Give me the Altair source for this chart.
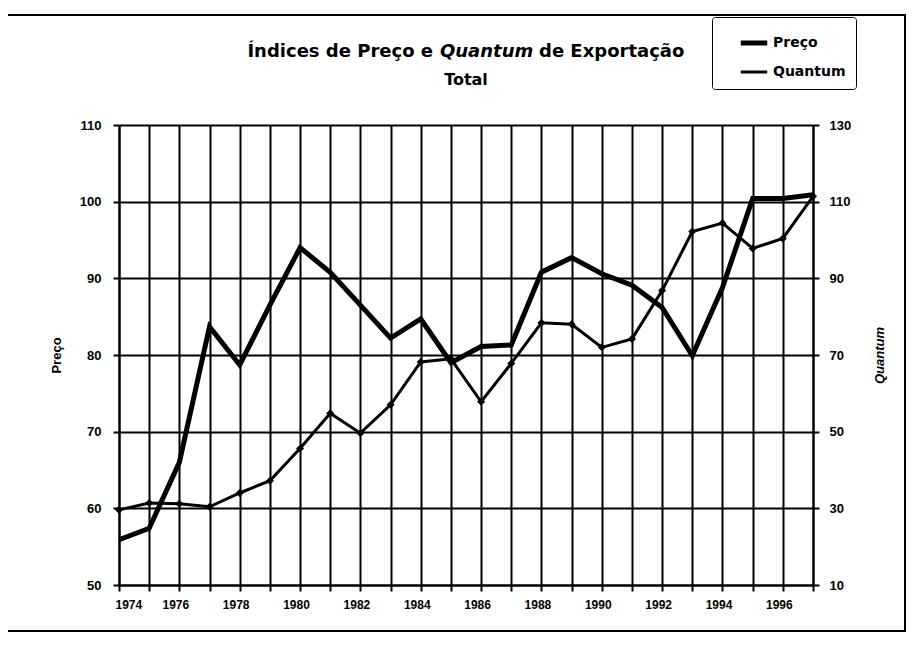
import altair as alt
import pandas as pd

anos = [1974, 1975, 1976, 1977, 1978, 1979, 1980, 1981, 1982, 1983, 1984, 1985,
        1986, 1987, 1988, 1989, 1990, 1991, 1992, 1993, 1994, 1995, 1996, 1997]
preco = [55.9, 57.4, 66.0, 83.7, 78.7, 86.5, 94.0, 90.8, 86.5, 82.2, 84.7, 79.0,
         81.1, 81.3, 90.8, 92.7, 90.6, 89.1, 86.2, 79.9, 88.8, 100.4, 100.4, 100.9]
quantum = [29.6, 31.4, 31.2, 30.4, 34.0, 37.2, 45.6, 54.8, 49.6, 57.0, 68.2, 69.0,
           57.8, 67.8, 78.4, 78.0, 72.0, 74.2, 86.8, 102.2, 104.4, 97.8, 100.4, 111.4]
series = ["Preço", "Quantum"]
ticks_esq = [50, 60, 70, 80, 90, 100, 110]
ticks_dir = [10, 30, 50, 70, 90, 110, 130]
titulo_a = ["Índices de Preço e"]
titulo_b = ["Quantum"]
titulo_c = ["de Exportação"]
titulo_2 = ["Total"]
eixo_esq = "Preço"
eixo_dir = "Quantum"

df = pd.DataFrame({
    "ano": anos + anos,
    "serie": [series[0]] * len(anos) + [series[1]] * len(anos),
    "valor": preco + quantum,
})

W, H = 694, 460
FONT = "Liberation Sans"
TFONT = "DejaVu Sans"

base = alt.Chart(df)

x_enc = alt.X(
    "ano:Q",
    scale=alt.Scale(domain=[anos[0], anos[-1]], nice=False, zero=False),
    axis=alt.Axis(
        values=anos, format="d", title=None,
        labelExpr="datum.value % 2 == 0 ? datum.label : ''",
        grid=True, gridColor="black", gridWidth=2, gridOpacity=1,
        domainColor="black", domainWidth=2, tickColor="black", tickWidth=2,
        tickSize=6, labelPadding=8, labelOffset=-4,
        labelFont=FONT, labelFontWeight="bold", labelFontSize=12, labelColor="black",
    ),
)

color_enc = alt.Color(
    "serie:N",
    scale=alt.Scale(domain=series, range=["black", "black"]),
    legend=alt.Legend(
        title=None, orient="none", legendX=593, legendY=-108,
        strokeColor="black", padding=10, cornerRadius=3,
        symbolType="stroke", symbolSize=700, symbolStrokeColor="black",
        symbolOffset=16,
        labelFont=TFONT, labelFontWeight="bold", labelFontSize=14, labelColor="black",
        rowPadding=4, labelOffset=3,
    ),
)
sw_enc = alt.StrokeWidth(
    "serie:N",
    scale=alt.Scale(domain=series, range=[5, 3]),
    legend=alt.Legend(title=None, orient="none", legendX=593, legendY=-108),
)

y_left = alt.Y(
    "valor:Q",
    scale=alt.Scale(domain=[ticks_esq[0], ticks_esq[-1]], nice=False, zero=False),
    axis=alt.Axis(
        values=ticks_esq, format="d", title=eixo_esq, orient="left",
        grid=True, gridColor="black", gridWidth=2, gridOpacity=1,
        domainColor="black", domainWidth=2, tickColor="black", tickWidth=2,
        tickSize=6, labelPadding=12,
        labelFont=FONT, labelFontWeight="bold", labelFontSize=13, labelColor="black",
        titleFont=FONT, titleFontWeight="bold", titleFontSize=13, titleColor="black",
        titlePadding=16,
    ),
)
y_right = alt.Y(
    "valor:Q",
    scale=alt.Scale(domain=[ticks_dir[0], ticks_dir[-1]], nice=False, zero=False),
    axis=alt.Axis(
        values=ticks_dir, format="d", title=eixo_dir, orient="right",
        grid=False,
        domainColor="black", domainWidth=2, tickColor="black", tickWidth=2,
        tickSize=6, labelPadding=10,
        labelFont=FONT, labelFontWeight="bold", labelFontSize=13, labelColor="black",
        titleFont=FONT, titleFontWeight="bold", titleFontSize=13, titleColor="black",
        titleFontStyle="italic", titleAngle=270, titlePadding=36,
    ),
)

preco_line = base.transform_filter(alt.datum.serie == series[0]).mark_line(
    strokeJoin="miter"
).encode(x=x_enc, y=y_left, color=color_enc, strokeWidth=sw_enc)

quantum_line = base.transform_filter(alt.datum.serie == series[1]).mark_line().encode(
    x=x_enc, y=y_right, color=color_enc, strokeWidth=sw_enc
)
quantum_pts = base.transform_filter(alt.datum.serie == series[1]).mark_point(
    shape="diamond", filled=True, size=65, color="black", opacity=1
).encode(x=x_enc, y=alt.Y("valor:Q"))

quantum_layer = alt.layer(quantum_line, quantum_pts)

frame = alt.Chart(pd.DataFrame({"k": [0]})).mark_rect(
    fillOpacity=0, stroke="black", strokeWidth=2
).encode(x=alt.value(-114), x2=alt.value(786), y=alt.value(-110), y2=alt.value(506))

def txt(vals, xpos, ypos, align, style="normal", size=18):
    return alt.Chart(pd.DataFrame({"t": vals})).mark_text(
        font=TFONT, fontWeight="bold", fontSize=size, fontStyle=style,
        align=align, baseline="middle", color="black",
    ).encode(text="t:N", x=alt.value(xpos), y=alt.value(ypos))

title_layers = [
    txt(titulo_a, 314, -73, "right"),
    txt(titulo_b, 321, -73, "left", style="italic"),
    txt(titulo_c, 420, -73, "left"),
    txt(titulo_2, 347, -45, "center", size=16),
]

chart = alt.layer(preco_line, quantum_layer, frame, *title_layers).resolve_scale(
    y="independent"
).properties(
    width=W, height=H,
    autosize=alt.AutoSizeParams(type="none"),
    padding={"left": 111, "top": 117, "right": 94, "bottom": 55},
    background="white",
).configure_view(stroke=None)

chart.save("out.html", embed_options={"renderer": "svg", "actions": False})
